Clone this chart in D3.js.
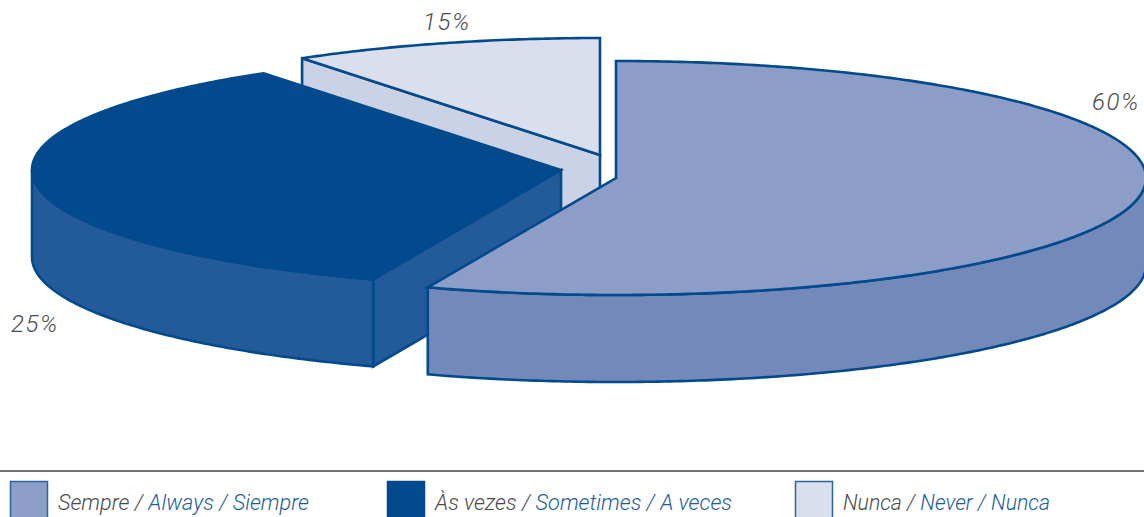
<!DOCTYPE html>
<html>
<head>
    <meta charset="utf-8">
    <title>Sempre / Always / Siempre</title>
    <script src="https://d3js.org/d3.v7.min.js" charSet="utf-8"></script>
    <style>
        html, body { margin: 0; padding: 0; background: #fff; overflow: hidden; }
        text { font-family: Roboto, "Liberation Sans", sans-serif; font-style: italic; font-weight: 300; }
    </style>
</head>
<body>
<script>

    const width = 1144;
    const height = 517;

    // data
    const categories = ['Sempre', 'Às vezes', 'Nunca'];
    const englishNames = ['Always', 'Sometimes', 'Never'];
    const spanishNames = ['Siempre', 'A veces', 'Nunca'];
    const percentages = [60, 25, 15];

    // colours per slice
    const topColors = ['#8c9dc7', '#004a8d', '#dadeed'];
    const wallColors = ['#7389ba', '#235b9a', '#cbd2e6'];
    const lineColor = '#004a8d';
    const greyText = '#4a4a4a';
    const blueText = '#1a5c9e';

    // the original pie is not drawn to scale, so the cumulative share goes through this
    const angleScale = d3.scaleLinear()
        .domain([0, 60, 85, 100])
        .range([0, 200.8, 325.8, 360].map(d => d * Math.PI / 180));

    const ry = 117;
    const depth = 87;

    // exploded centre and horizontal radius of each slice
    const centerX = [616, 561, 600];
    const centerY = [178, 170, 155];
    const radiusX = [530, 529, 530];

    // where the percentage label and the legend entry of each slice go
    const labelX = [1092, 11, 423];
    const labelY = [110, 332, 30];
    const legendX = [10.5, 387.5, 795.5];
    const legendWidth = [251, 297, 207];

    const svg = d3.select('body').append('svg')
        .attr('width', width)
        .attr('height', height)
        .style('display', 'block');

    const pie = d3.pie().sort(null).value(d => d)(percentages);

    let running = 0;
    const slices = pie.map((p, i) => {
        const s = {
            i: i,
            start: angleScale(running),
            end: angleScale(running + percentages[i]),
            cx: centerX[i],
            cy: centerY[i],
            rx: radiusX[i]
        };
        running += percentages[i];
        return s;
    });

    const rim = (s, a) => [s.cx + s.rx * Math.sin(a), s.cy - ry * Math.cos(a)];

    const arcPoints = (s, a0, a1) => {
        const n = Math.max(2, Math.ceil(Math.abs(a1 - a0) * 90));
        return d3.range(n + 1).map(k => rim(s, a0 + (a1 - a0) * k / n));
    };

    const line = d3.line();
    const drop = p => [p[0], p[1] + depth];

    const addPath = (points, fill, w) => svg.append('path')
        .attr('d', line(points) + 'Z')
        .attr('fill', fill)
        .attr('stroke', lineColor)
        .attr('stroke-width', w)
        .attr('stroke-linejoin', 'miter');

    // back to front: Nunca, Às vezes, Sempre
    [2, 1, 0].forEach(i => {
        const s = slices[i];

        // cut face along the start edge, the one looking at the viewer
        if (i > 0) {
            const a = rim(s, s.start);
            const c = [s.cx, s.cy];
            addPath([c, a, drop(a), drop(c)], wallColors[i], 2.6);
        }

        // curved outer wall, only the part on the front half
        const a0 = Math.max(s.start, Math.PI / 2);
        const a1 = Math.min(s.end, Math.PI * 1.5);
        if (a1 > a0) {
            const edge = arcPoints(s, a0, a1);
            addPath(edge.concat(edge.map(drop).reverse()), wallColors[i], 2.6);
        }

        const top = [[s.cx, s.cy]].concat(arcPoints(s, s.start, s.end));
        addPath(top, topColors[i], 2.6);
    });

    // percentage labels
    svg.selectAll('text.pct')
        .data(percentages)
        .enter()
        .append('text')
        .attr('class', 'pct')
        .attr('x', (d, i) => labelX[i])
        .attr('y', (d, i) => labelY[i])
        .attr('font-size', 24)
        .attr('letter-spacing', 1.6)
        .attr('fill', greyText)
        .text(d => d + '%');

    // legend
    svg.append('line')
        .attr('x1', 0)
        .attr('x2', width)
        .attr('y1', 471)
        .attr('y2', 471)
        .attr('stroke', '#444')
        .attr('stroke-width', 1.6);

    categories.forEach((c, i) => {
        svg.append('rect')
            .attr('x', legendX[i])
            .attr('y', 481.5)
            .attr('width', 37)
            .attr('height', 40)
            .attr('fill', topColors[i])
            .attr('stroke', i === 1 ? lineColor : '#2a64a3')
            .attr('stroke-width', 1.5);

        const t = svg.append('text')
            .attr('x', legendX[i] + 47.5)
            .attr('y', 510)
            .attr('font-size', 22)
            .attr('textLength', legendWidth[i])
            .attr('lengthAdjust', 'spacingAndGlyphs');

        t.append('tspan').attr('fill', greyText).text(c + ' / ');
        t.append('tspan').attr('fill', blueText).text(englishNames[i] + ' / ' + spanishNames[i]);
    });

</script>
</body>
</html>
